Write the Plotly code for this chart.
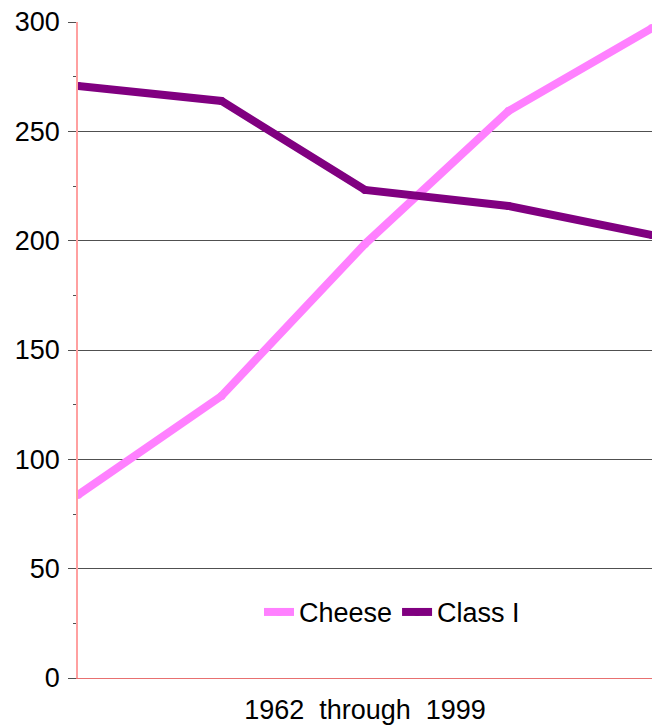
import plotly.graph_objects as go

periods = [0, 1, 2, 3, 4]
cheese = [83.7, 129, 198.5, 259.3, 297.2]
class_i = [270.7, 263.9, 223.2, 215.9, 202.6]
y_ticks = [0, 50, 100, 150, 200, 250, 300]

fig = go.Figure()
fig.add_trace(go.Scatter(x=periods, y=cheese, name="Cheese", mode="lines+markers",
                         line=dict(color="#FF80FF", width=8),
                         marker=dict(size=8, color="#FF80FF")))
fig.add_trace(go.Scatter(x=periods, y=class_i, name="Class I", mode="lines+markers",
                         line=dict(color="#800080", width=8),
                         marker=dict(size=8, color="#800080")))

fig.update_layout(
    width=663, height=725,
    margin=dict(l=78, r=11, t=22, b=47),
    paper_bgcolor="white", plot_bgcolor="white",
    font=dict(family="Liberation Sans, Arial, sans-serif", size=27, color="black"),
    showlegend=True,
    legend=dict(orientation="h", x=0.547, y=0.10, xanchor="center", yanchor="middle",
                font=dict(size=27), bgcolor="rgba(0,0,0,0)", itemwidth=30,
                tracegroupgap=0),
    xaxis=dict(range=[0, 4], showticklabels=False, showgrid=False, zeroline=False,
               showline=True, linecolor="#E87070", linewidth=1, ticks="",
               automargin=False,
               title=dict(text="1962  through  1999", font=dict(size=27), standoff=22)),
    yaxis=dict(range=[0, 300], tickvals=y_ticks, showgrid=True, gridcolor="#505050",
               gridwidth=1, zeroline=False, showline=True, linecolor="#FFA0A0",
               linewidth=1.5, ticks="outside", ticklen=8, tickcolor="#505050",
               ticklabelstandoff=3, tickfont=dict(size=27), automargin=False,
               minor=dict(dtick=25, tick0=0, ticks="outside", ticklen=3,
                          tickcolor="#505050", showgrid=False)),
)

fig.write_html("out.html")
